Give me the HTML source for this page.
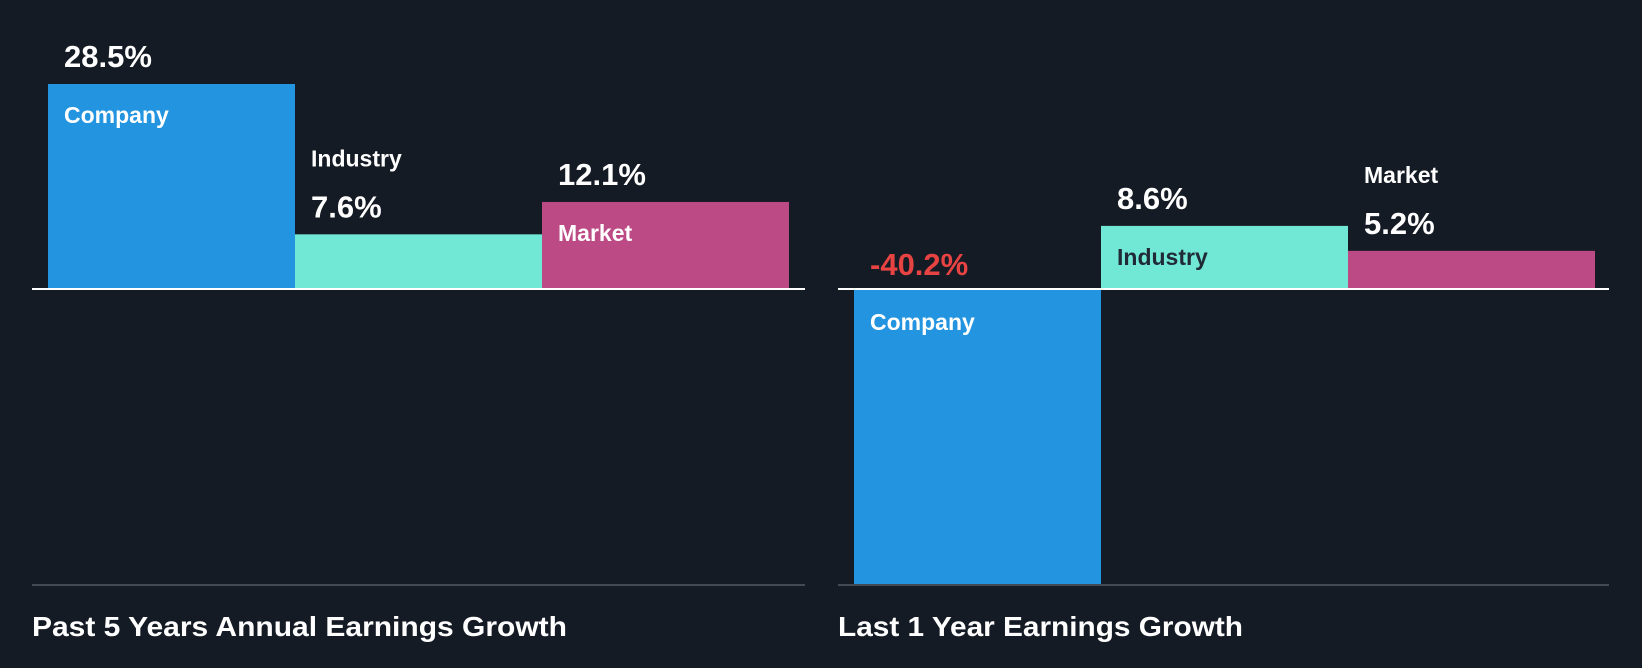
<!DOCTYPE html>
<html><head><meta charset="utf-8"><style>
html,body{margin:0;padding:0;background:#151b24;}
svg{display:block;font-family:"Liberation Sans",sans-serif;font-weight:bold;}
</style></head><body>
<svg id="c" width="1642" height="668" viewBox="0 0 1642 668">
<rect width="1642" height="668" fill="#151b24"/>
</svg>
<script>
const categories = ["Company","Industry","Market"];
const past5Values = [28.5, 7.6, 12.1];
const last1Values = [-40.2, 8.6, 5.2];
const chartTitles = ["Past 5 Years Annual Earnings Growth","Last 1 Year Earnings Growth"];

const NS="http://www.w3.org/2000/svg";
const svg=document.getElementById('c');
const colors=["#2394df","#71e7d6","#bb4a85"];
const nameColors=["#ffffff","#1f2a36","#ffffff"];
function mk(tag,attrs,parent){const e=document.createElementNS(NS,tag);for(const k in attrs)e.setAttribute(k,attrs[k]);(parent||svg).appendChild(e);return e;}
const baseY=289, bottomY=584;
const panels=[{x0:32,x1:805,barX:48,bw:247,vals:past5Values,title:chartTitles[0],tw:535},
              {x0:838,x1:1609,barX:854,bw:247,vals:last1Values,title:chartTitles[1],tw:405}];
panels.forEach((p,pi)=>{
  const g=mk('g',{});
  
  
  const maxAbs=Math.max(...p.vals.map(Math.abs));
  const maxPos=Math.max(...p.vals);
  const minNeg=Math.min(0,...p.vals);
  // scale: largest magnitude fills available space
  const scale = minNeg<0 ? (bottomY-baseY)/(-minNeg) : (baseY-84)/maxPos;
  const y=v=>baseY - v*scale;
  p.vals.forEach((v,i)=>{
    const x=p.barX+i*p.bw;
    const top=Math.min(y(v),baseY), h=Math.abs(y(v)-baseY);
    const r=mk('rect',{x:x,y:top,width:p.bw,height:h,fill:colors[i]},g);
    
    
    const lx=x+16;
    const valTxt=v.toFixed(1)+'%';
    let valY,nameY,nameFill;
    if(v<0){valY=baseY-14;nameY=baseY+41;nameFill=nameColors[i]==="#1f2a36"?"#1f2a36":"#fff";}
    else if(h>60){valY=top-17;nameY=top+39;nameFill=nameColors[i];}
    else{valY=top-17;nameY=top-68;nameFill="#fff";}
    const vt=mk('text',{x:lx,y:valY,fill:v<0?"#e84343":"#fff","font-size":31},g);
    vt.textContent=valTxt;
    
    
    const nt=mk('text',{x:lx,y:nameY,fill:nameFill,"font-size":23},g);
    nt.textContent=categories[i];
    
    
  });
  const zl=mk('rect',{x:p.x0,y:baseY-1,width:p.x1-p.x0,height:2,fill:"#ffffff"},g);
  
  
  const bl=mk('rect',{x:p.x0,y:bottomY,width:p.x1-p.x0,height:2,fill:"#444a55"},g);
  
  
  const t=mk('text',{x:p.x0,y:636,fill:"#fff","font-size":28,textLength:p.tw,lengthAdjust:"spacingAndGlyphs"},g);
  t.textContent=p.title;
  
  
});
</script>
</body></html>
